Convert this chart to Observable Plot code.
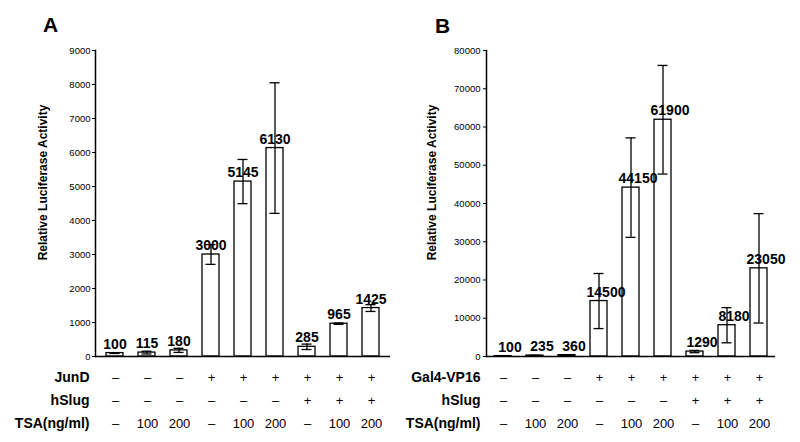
<!DOCTYPE html>
<html>
<head>
<meta charset="utf-8">
<script src="https://cdn.jsdelivr.net/npm/d3@7"></script>
<script src="https://cdn.jsdelivr.net/npm/@observablehq/plot@0.6"></script>
<style>
  html, body { margin: 0; padding: 0; background: white; }
  #wrap { position: relative; width: 800px; height: 442px; display: flex; font-family: "Liberation Sans", Arial, sans-serif; }
  .col { width: 400px; display: flex; flex-direction: column; position: relative; }
  .letter { position: absolute; font: bold 21px "Liberation Sans", Arial, sans-serif; line-height: 1; color: black; }
  svg { display: block; }
</style>
</head>
<body>
<div id="wrap">
  <div class="col" id="colA"><div class="letter" style="left:43px;top:14px">A</div></div>
  <div class="col" id="colB"><div class="letter" style="left:35px;top:15px">B</div></div>
</div>
<script>
// ---- data ----
const lanes = ["1", "2", "3", "4", "5", "6", "7", "8", "9"];

const valuesA = [100, 115, 180, 3000, 5145, 6130, 285, 965, 1425];
const errorsA = [10, 40, 60, 290, 650, 1920, 80, 20, 100];
const rowNamesA = ["JunD", "hSlug", "TSA(ng/ml)"];
const jundRow = ["–", "–", "–", "+", "+", "+", "+", "+", "+"];

const valuesB = [100, 235, 360, 14500, 44150, 61900, 1290, 8180, 23050];
const errorsB = [30, 100, 120, 7200, 13000, 14200, 300, 4600, 14300];
const rowNamesB = ["Gal4-VP16", "hSlug", "TSA(ng/ml)"];
const gal4Row = ["–", "–", "–", "+", "+", "+", "+", "+", "+"];

const hslugRow = ["–", "–", "–", "–", "–", "–", "+", "+", "+"];
const tsaRow = ["–", "100", "200", "–", "100", "200", "–", "100", "200"];

const ticksA = d3.range(0, 9001, 1000);
const ticksB = d3.range(0, 80001, 10000);
const yTitle = "Relative Luciferase Activity";

const FONT = "'Liberation Sans', Arial, sans-serif";

function panel({values, errors, ticks, rowNames, rows, labelDx, marginLeft, marginRight, tickPadding, titleDx}) {
  const data = lanes.map((lane, i) => ({lane, value: values[i], err: errors[i]}));
  const xScale = {domain: lanes, paddingInner: 0.48, paddingOuter: 0.24, axis: null};
  const chart = Plot.plot({
    width: 400, height: 362,
    marginTop: 50, marginBottom: 6, marginLeft, marginRight,
    style: {fontFamily: FONT, background: "white", color: "black", overflow: "visible"},
    x: xScale,
    y: {domain: [0, ticks[ticks.length - 1]], axis: null},
    marks: [
      Plot.barY(data, {x: "lane", y: "value", fill: "white", stroke: "black", strokeWidth: 1.3}),
      Plot.text(data, {x: "lane", y: "value", text: d => String(d.value), dy: -9, dx: labelDx,
        fontWeight: "bold", fontSize: 14, fill: "black"}),
      Plot.ruleX(data, {x: "lane", y1: d => d.value - d.err, y2: d => d.value + d.err, stroke: "black", strokeWidth: 1.3}),
      Plot.tickY(data, {x: "lane", y: d => d.value - d.err, insetLeft: 3.5, insetRight: 3.5, stroke: "black", strokeWidth: 1.3}),
      Plot.tickY(data, {x: "lane", y: d => d.value + d.err, insetLeft: 3.5, insetRight: 3.5, stroke: "black", strokeWidth: 1.3}),
      Plot.ruleY([0], {stroke: "black", strokeWidth: 1.5}),
      Plot.frame({anchor: "left", stroke: "black", strokeWidth: 1.5}),
      Plot.axisY({ticks, tickSize: 3, tickPadding, fontSize: 9.5, tickFormat: d => String(d), label: null}),
      Plot.text([yTitle], {frameAnchor: "left", textAnchor: "middle", rotate: -90, dx: titleDx, dy: -21,
        fontWeight: "bold", fontSize: 12, fill: "black"})
    ]
  });
  const cells = [];
  rowNames.forEach((r, j) => lanes.forEach((lane, i) => cells.push({lane, row: r, text: rows[j][i]})));
  const table = Plot.plot({
    width: 400, height: 80,
    marginTop: 15, marginBottom: 19, marginLeft, marginRight,
    style: {fontFamily: FONT, background: "white", color: "black", overflow: "visible"},
    x: xScale,
    y: {type: "point", domain: rowNames, padding: 0, axis: null},
    marks: [
      Plot.text(cells, {x: "lane", y: "row", text: "text", fontSize: 13, fill: "black"}),
      Plot.axisY({tickSize: 0, tickPadding: 6, fontSize: 14, fontWeight: "bold", label: null})
    ]
  });
  return [chart, table];
}

const [chartA, tableA] = panel({
  values: valuesA, errors: errorsA, ticks: ticksA,
  rowNames: rowNamesA, rows: [jundRow, hslugRow, tsaRow],
  labelDx: 0, marginLeft: 95, marginRight: 10, tickPadding: 2, titleDx: -52
});
const [chartB, tableB] = panel({
  values: valuesB, errors: errorsB, ticks: ticksB,
  rowNames: rowNamesB, rows: [gal4Row, hslugRow, tsaRow],
  labelDx: 7, marginLeft: 86, marginRight: 25, tickPadding: 3, titleDx: -54
});
document.getElementById("colA").append(chartA, tableA);
document.getElementById("colB").append(chartB, tableB);
</script>
</body>
</html>
